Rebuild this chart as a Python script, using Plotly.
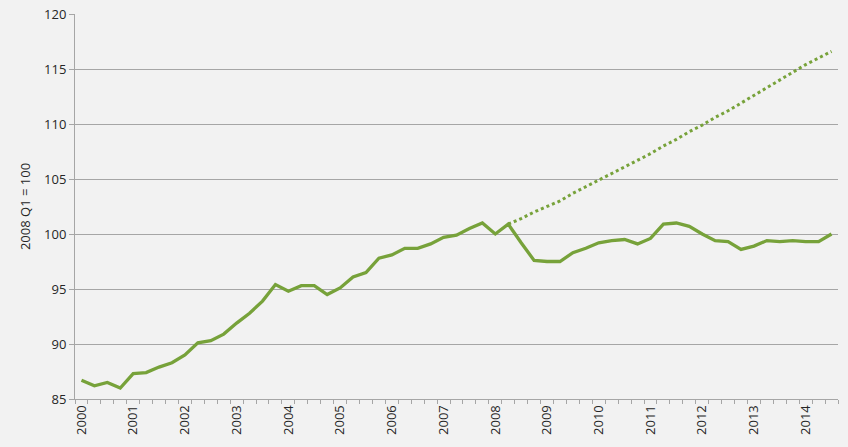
import plotly.graph_objects as go

# Quarterly index, 2000 Q1 .. 2014 Q3 (2008 Q1 = 100)
quarters = [f"{y} Q{q}" for y in range(2000, 2015) for q in range(1, 5)][:59]

actual = [
    86.7, 86.2, 86.5, 86.0,
    87.3, 87.4, 87.9, 88.3,
    89.0, 90.1, 90.3, 90.9,
    91.9, 92.8, 93.9, 95.4,
    94.8, 95.3, 95.3, 94.5,
    95.1, 96.1, 96.5, 97.8,
    98.1, 98.7, 98.7, 99.1,
    99.7, 99.9, 100.5, 101.0,
    100.0, 100.9, 99.2, 97.6,
    97.5, 97.5, 98.3, 98.7,
    99.2, 99.4, 99.5, 99.1,
    99.6, 100.9, 101.0, 100.7,
    100.0, 99.4, 99.3, 98.6,
    98.9, 99.4, 99.3, 99.4,
    99.3, 99.3, 100.0,
]

# pre-crisis trend, from 2008 Q2 onwards
trend_start = 33
trend = [
    100.9, 101.4, 102.0, 102.5, 103.0, 103.7, 104.3, 104.9,
    105.5, 106.1, 106.7, 107.3, 108.0, 108.6, 109.3, 109.9,
    110.6, 111.2, 111.9, 112.6, 113.3, 114.0, 114.7, 115.4,
    116.0, 116.6,
]

year_labels = [str(y) for y in range(2000, 2015)]

GREEN = "#77a23a"
GRID = "#a6a6a6"

xs = list(range(len(actual)))
xs_trend = list(range(trend_start, trend_start + len(trend)))

fig = go.Figure()
fig.add_trace(go.Scatter(x=xs_trend, y=trend, mode="lines",
                         line=dict(color=GREEN, width=3, dash="dot"),
                         hovertext=quarters[trend_start:], showlegend=False))
fig.add_trace(go.Scatter(x=xs, y=actual, mode="lines",
                         line=dict(color=GREEN, width=3.3),
                         hovertext=quarters, showlegend=False))

fig.update_layout(
    width=848, height=447,
    margin=dict(l=75, r=10, t=14, b=48),
    paper_bgcolor="#f2f2f2", plot_bgcolor="#f2f2f2",
    font=dict(family="Open Sans, Liberation Sans, sans-serif", size=12, color="#262626"),
)
fig.update_xaxes(
    automargin=False,
    range=[-0.5, len(actual) - 0.5],
    tickvals=[4 * i for i in range(len(year_labels))],
    ticktext=year_labels,
    tickangle=-90, ticks="", showgrid=False, zeroline=False,
    showline=True, linecolor=GRID, linewidth=1,
    minor=dict(ticks="outside", tick0=-0.5, dtick=1, ticklen=4, tickcolor=GRID, showgrid=False),
    tickfont=dict(size=13),
)
fig.update_yaxes(
    automargin=False,
    range=[85, 120], dtick=5,
    showgrid=True, gridcolor=GRID, gridwidth=1, zeroline=False,
    showline=True, linecolor=GRID, linewidth=1,
    ticks="outside", ticklen=5, tickcolor=GRID,
    tickfont=dict(size=13),
    title=dict(text="2008 Q1 = 100", font=dict(size=13), standoff=10),
)

# drop the page's default body margin so the figure sits at the window origin
fig.write_html("out.html", config={"displayModeBar": False},
               post_script="document.body.style.margin='0';")
